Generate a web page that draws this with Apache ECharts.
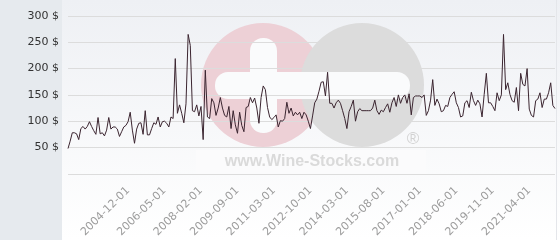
<!DOCTYPE html>
<html>
<head>
<meta charset="utf-8">
<script src="https://cdn.jsdelivr.net/npm/echarts@6/dist/echarts.min.js"></script>
<style>html,body{margin:0;padding:0;background:#fff}#c{width:560px;height:240px}</style>
</head>
<body>
<div id="c"></div>
<script>
var dates = [
'2002-08-01','2002-09-01','2002-10-01','2002-11-01','2002-12-01',
'2003-01-01','2003-02-01','2003-03-01','2003-04-01','2003-05-01','2003-06-01','2003-07-01','2003-08-01','2003-09-01','2003-10-01','2003-11-01','2003-12-01',
'2004-01-01','2004-02-01','2004-03-01','2004-04-01','2004-05-01','2004-06-01','2004-07-01','2004-08-01','2004-09-01','2004-10-01','2004-11-01','2004-12-01',
'2005-01-01','2005-02-01','2005-03-01','2005-04-01','2005-05-01','2005-06-01','2005-07-01','2005-08-01','2005-09-01','2005-10-01','2005-11-01','2005-12-01',
'2006-01-01','2006-02-01','2006-03-01','2006-04-01','2006-05-01','2006-06-01','2006-07-01','2006-09-01','2006-10-01','2006-11-01',
'2007-01-01','2007-02-01','2007-04-01','2007-05-01','2007-06-01','2007-08-01','2007-09-01','2007-10-01','2007-11-01','2007-12-01',
'2008-01-01','2008-02-01','2008-03-01','2008-04-01','2008-05-01','2008-07-01','2008-08-01','2008-09-01','2008-10-01','2008-11-01','2008-12-01',
'2009-02-01','2009-03-01','2009-04-01','2009-05-01','2009-06-01','2009-07-01','2009-08-01','2009-09-01','2009-10-01','2009-11-01','2009-12-01',
'2010-01-01','2010-02-01','2010-03-01','2010-04-01','2010-06-01','2010-07-01','2010-08-01','2010-09-01','2010-10-01','2010-11-01','2010-12-01',
'2011-01-01','2011-02-01','2011-03-01','2011-04-01','2011-05-01','2011-06-01','2011-07-01','2011-09-01','2011-10-01','2011-11-01','2011-12-01',
'2012-01-01','2012-03-01','2012-04-01','2012-05-01','2012-06-01','2012-07-01','2012-08-01','2012-09-01','2012-10-01','2012-11-01','2012-12-01',
'2013-01-01','2013-02-01','2013-03-01','2013-04-01','2013-05-01','2013-06-01','2013-07-01','2013-08-01','2013-09-01','2013-10-01','2013-11-01','2013-12-01',
'2014-01-01','2014-02-01','2014-03-01','2014-04-01','2014-05-01','2014-06-01','2014-07-01','2014-08-01','2014-09-01','2014-10-01','2014-11-01','2014-12-01',
'2015-01-01','2015-02-01','2015-03-01','2015-04-01','2015-05-01','2015-06-01','2015-07-01','2015-08-01','2015-09-01','2015-10-01','2015-11-01','2015-12-01',
'2016-01-01','2016-02-01','2016-03-01','2016-04-01','2016-05-01','2016-06-01','2016-07-01','2016-08-01','2016-09-01','2016-10-01','2016-11-01','2016-12-01',
'2017-01-01','2017-02-01','2017-03-01','2017-04-01','2017-05-01','2017-06-01','2017-07-01','2017-08-01','2017-09-01','2017-10-01','2017-11-01','2017-12-01',
'2018-01-01','2018-02-01','2018-03-01','2018-04-01','2018-05-01','2018-06-01','2018-07-01','2018-08-01','2018-09-01','2018-10-01','2018-11-01','2018-12-01',
'2019-01-01','2019-02-01','2019-03-01','2019-04-01','2019-05-01','2019-06-01','2019-07-01','2019-08-01','2019-09-01','2019-10-01','2019-11-01','2019-12-01',
'2020-01-01','2020-02-01','2020-03-01','2020-04-01','2020-05-01','2020-06-01','2020-07-01','2020-08-01','2020-09-01','2020-10-01','2020-11-01','2020-12-01',
'2021-01-01','2021-02-01','2021-03-01','2021-04-01','2021-05-01','2021-06-01','2021-07-01','2021-08-01','2021-09-01','2021-10-01','2021-11-01','2021-12-01',
'2022-01-01','2022-02-01','2022-03-01','2022-04-01'
];
var prices = [
48, 62, 78, 78, 76, 65, 86, 90, 85, 90,
99, 90, 82, 75, 107, 76, 78, 72, 83, 107,
85, 89, 89, 85, 71, 80, 89, 92, 99, 117,
83, 58, 85, 96, 97, 75, 120, 74, 74, 86,
97, 94, 108, 89, 99, 100, 96, 89, 108, 105,
219, 115, 131, 115, 97, 133, 265, 244, 120, 118,
131, 110, 128, 65, 197, 108, 105, 143, 135, 111,
125, 145, 125, 111, 108, 128, 86, 120, 93, 77,
117, 92, 80, 126, 128, 145, 135, 144, 125, 96,
145, 167, 160, 126, 108, 103, 107, 112, 89, 101,
100, 105, 136, 115, 125, 110, 117, 112, 117, 105,
117, 112, 100, 86, 110, 135, 142, 157, 174, 175,
148, 193, 134, 134, 125, 135, 140, 134, 120, 105,
86, 118, 128, 140, 100, 118, 124, 120, 120, 120,
120, 120, 125, 140, 120, 113, 121, 118, 126, 133,
117, 135, 145, 128, 150, 134, 145, 150, 134, 152,
112, 145, 148, 148, 148, 145, 150, 111, 120, 140,
179, 130, 142, 133, 118, 120, 130, 128, 145, 151,
156, 135, 126, 108, 110, 135, 139, 126, 155, 139,
130, 140, 133, 108, 151, 191, 135, 135, 128, 120,
154, 139, 150, 265, 160, 173, 151, 139, 136, 164,
120, 191, 170, 167, 200, 123, 111, 108, 139, 142,
154, 126, 142, 142, 154, 173, 130, 124
];
var yTicks = [0, 50, 100, 150, 200, 250, 300];
var firstLabelIndex = 28;
var labelStep = 17;

var chart = echarts.init(document.getElementById('c'), null, {renderer: 'canvas'});
chart.setOption({
  animation: false,
  backgroundColor: '#ffffff',
  graphic: [
    {type: 'rect', z: -20, shape: {x: 0, y: 0, width: 62, height: 240}, style: {fill: '#e6eaee'}},
    {type: 'rect', z: -20, shape: {x: 62, y: 0, width: 498, height: 240},
      style: {fill: new echarts.graphic.LinearGradient(0, 0, 0, 1, [{offset: 0, color: '#eef0f4'}, {offset: 1, color: '#ffffff'}])}},
    {type: 'line', z: -19, shape: {x1: 556.5, y1: 0, x2: 556.5, y2: 240}, style: {stroke: '#e4e6ea', lineWidth: 1}},
    {type: 'rect', z: -18, shape: {x: 196, y: 150, width: 230, height: 24}, style: {fill: '#fbfbfc'}},
    {type: 'circle', z: -17, shape: {cx: 263, cy: 85, r: 62}, style: {fill: '#edd0d6'}},
    {type: 'circle', z: -16, shape: {cx: 362, cy: 85, r: 62}, style: {fill: '#dcdcdc'}},
    {type: 'rect', z: -15, shape: {x: 215, y: 72, width: 195, height: 27, r: 13}, style: {fill: '#fafbfc'}},
    {type: 'rect', z: -15, shape: {x: 250, y: 38, width: 27, height: 95, r: 13}, style: {fill: '#fafbfc'}},
    {type: 'text', z: -15, style: {x: 312, y: 162, text: 'www.Wine-Stocks.com', fill: '#dadada', font: 'bold 16px "Liberation Sans", Arial, sans-serif', align: 'center', verticalAlign: 'middle'}},
    {type: 'text', z: -15, style: {x: 413, y: 139, text: '®', fill: '#d2d2d2', font: '17px "Liberation Sans", Arial, sans-serif', align: 'center', verticalAlign: 'middle'}}
  ],
  grid: {left: 68, right: 5, top: 16, bottom: 62, containLabel: false},
  xAxis: {
    type: 'category',
    data: dates,
    boundaryGap: false,
    axisLine: {show: false},
    axisTick: {show: false},
    splitLine: {show: false},
    axisLabel: {
      rotate: 45,
      margin: 15,
      color: '#9c9c9c',
      fontSize: 11,
      fontFamily: 'DejaVu Sans',
      interval: function (idx) { return idx >= firstLabelIndex && (idx - firstLabelIndex) % labelStep === 0; }
    }
  },
  yAxis: {
    type: 'value',
    min: yTicks[0],
    max: yTicks[yTicks.length - 1],
    interval: yTicks[1] - yTicks[0],
    axisLine: {show: false},
    axisTick: {show: false},
    splitLine: {show: true, lineStyle: {color: '#dcdcdc', width: 1}},
    axisLabel: {
      margin: 9,
      color: '#333333',
      fontSize: 11,
      fontFamily: 'DejaVu Sans',
      formatter: function (v) { return v === 0 ? '' : v + ' $'; }
    }
  },
  series: [{
    type: 'line',
    data: prices,
    symbol: 'none',
    z: 5,
    lineStyle: {color: '#3b2530', width: 1}
  }]
});
</script>
</body>
</html>
